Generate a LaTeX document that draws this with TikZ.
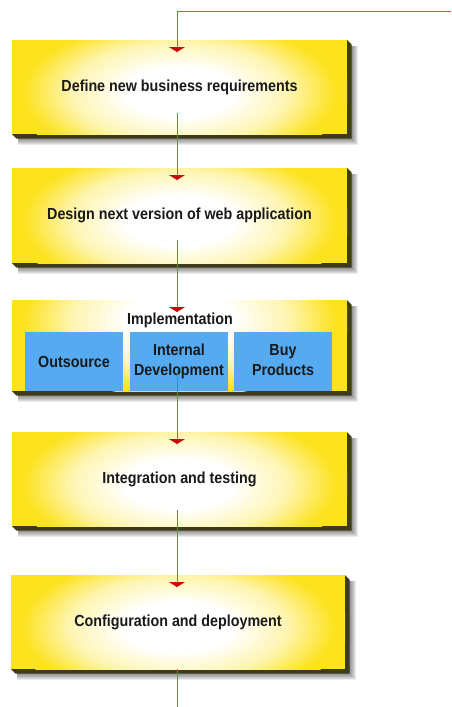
\documentclass[tikz,border=0pt]{standalone}
\usepackage{fontspec}
\setmainfont{Liberation Sans}
\usetikzlibrary{arrows.meta,calc}
\definecolor{boxyellow}{RGB}{253,226,30}
\definecolor{stepblue}{RGB}{85,170,240}
\definecolor{flowline}{RGB}{222,80,66}
\definecolor{tipred}{RGB}{200,10,10}
\definecolor{bevelc}{RGB}{62,58,28}
\definecolor{txt}{RGB}{25,25,25}
\colorlet{paleyellow}{boxyellow!35!white}
\pgfdeclareradialshading{boxglow}{\pgfpoint{0bp}{0bp}}{color(0bp)=(white); color(8bp)=(white); color(16bp)=(paleyellow); color(23bp)=(boxyellow); color(50bp)=(boxyellow)}
\pgfdeclarelayer{back}
\pgfdeclarelayer{bg}
\pgfsetlayers{back,bg,main}
\newcommand{\vstretch}[1]{\scalebox{1}[1.12]{#1}}
\newcommand{\twolines}[2]{\raisebox{3.5pt}{\def\arraystretch{1.05}\begin{tabular}{@{}c@{}}\vstretch{#1}\\\vstretch{#2}\end{tabular}}}
\newcommand{\slabshadow}[1]{%
  \begin{pgfonlayer}{bg}
    \foreach \k in {1,...,7}{%
      \fill[black,opacity=0.08] ([xshift=6pt,yshift=-6pt]#1.north west) rectangle ([xshift=4pt+\k pt,yshift=-4pt-\k pt]#1.south east);
    }
    \fill[bevelc] (#1.north east) -- ([xshift=4.5pt,yshift=-4.5pt]#1.north east) -- ([xshift=4.5pt,yshift=-4.5pt]#1.south east) -- ([xshift=4.5pt,yshift=-4.5pt]#1.south west) -- (#1.south west) -- (#1.south east) -- cycle;
  \end{pgfonlayer}}
\begin{document}
\begin{tikzpicture}[x=1pt,y=-1pt,
  slab/.style={fill=boxyellow, inner sep=0pt, outer sep=0pt, text=txt,
    font=\bfseries\fontsize{14.3}{18}\selectfont,
    path picture={\shade[shading=boxglow] ([yshift=-5pt]path picture bounding box.center) ellipse [x radius=170, y radius=78];}},
  implslab/.style={slab,
    path picture={\shade[shading=boxglow] ([yshift=26pt]path picture bounding box.center) ellipse [x radius=170, y radius=78];}},
  choice/.style={fill=stepblue, inner sep=0pt, outer sep=0pt, text=txt, align=center,
    minimum width=98pt, minimum height=59pt,
    font=\bfseries\fontsize{14.3}{19}\selectfont},
  flow/.style={draw=flowline, line width=0.9pt, -{Triangle[width=16pt,length=5pt,color=tipred]}},
  flowend/.style={draw=flowline, line width=0.9pt}]
\useasboundingbox (0,0) rectangle (451,707);
\begin{pgfonlayer}{back}
\fill[white] (0,0) rectangle (451,707);
\end{pgfonlayer}

\node[slab, minimum width=335pt, minimum height=94pt] (b1) at (179.5,87) {\vstretch{Define new business requirements}};
\node[slab, minimum width=335pt, minimum height=95pt] (b2) at (179.5,215.5) {\vstretch{Design next version of web application}};
\node[implslab, minimum width=335pt, minimum height=91pt] (b3) at (179.5,345.5) {};
\node[slab, minimum width=335pt, minimum height=94pt] (b4) at (179.5,479) {\vstretch{Integration and testing}};
\node[slab, minimum width=334pt, minimum height=94pt] (b5) at (178,622) {\vstretch{Configuration and deployment}};

\slabshadow{b1}\slabshadow{b2}\slabshadow{b3}\slabshadow{b4}\slabshadow{b5}

\node[text=txt, inner sep=0pt, font=\bfseries\fontsize{14.3}{18}\selectfont] (impl) at (180,320) {\vstretch{Implementation}};
\node[choice] (out) at (74,361.5) {\vstretch{Outsource}};
\node[choice] (int) at (179,361.5) {\twolines{Internal}{Development}};
\node[choice] (buy) at (283,361.5) {\twolines{Buy}{Products}};

\coordinate (entry) at (451,11);
\coordinate (exit) at (177,707);
\draw[flow] (entry) -| ($(b1.north)+(-2.5,12)$);
\draw[flow] ($(b1.south)+(-2.5,-21)$) -- ($(b2.north)+(-2.5,12)$);
\draw[flow] ($(b2.south)+(-2.5,-23)$) -- ($(b3.north)+(-2.5,12)$);
\draw[flow] ($(int.south)+(-2,-21)$) -- ($(b4.north)+(-2.5,12)$);
\draw[flow] ($(b4.south)+(-2.5,-16)$) -- ($(b5.north)+(-1,12)$);
\draw[flowend] ($(b5.south)+(-1,0)$) -- (exit);
\end{tikzpicture}
\end{document}
